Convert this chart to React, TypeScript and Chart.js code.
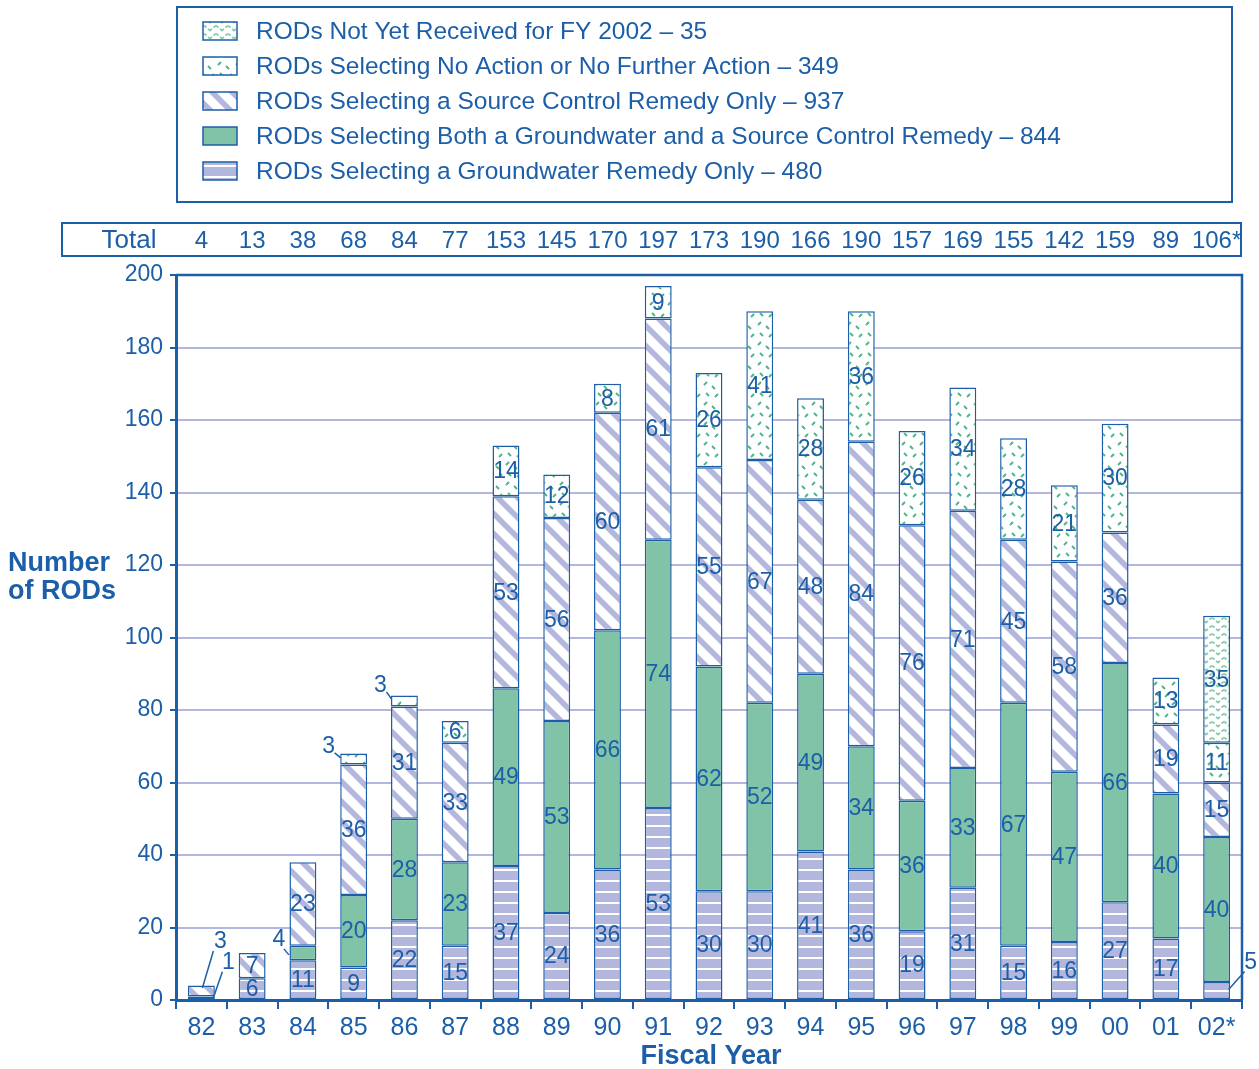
import React, { useEffect, useRef } from 'react';
import { Chart, registerables } from 'chart.js';

Chart.register(...registerables);

// ---------- data ----------
const categories = ['82', '83', '84', '85', '86', '87', '88', '89', '90', '91', '92', '93', '94', '95', '96', '97', '98', '99', '00', '01', '02*'];
const totalLabels = ['4', '13', '38', '68', '84', '77', '153', '145', '170', '197', '173', '190', '166', '190', '157', '169', '155', '142', '159', '89', '106*'];
const groundwaterOnly = [0, 6, 11, 9, 22, 15, 37, 24, 36, 53, 30, 30, 41, 36, 19, 31, 15, 16, 27, 17, 5];
const bothRemedies = [1, 0, 4, 20, 28, 23, 49, 53, 66, 74, 62, 52, 49, 34, 36, 33, 67, 47, 66, 40, 40];
const sourceControlOnly = [3, 7, 23, 36, 31, 33, 53, 56, 60, 61, 55, 67, 48, 84, 76, 71, 45, 58, 36, 19, 15];
const noAction = [0, 0, 0, 3, 3, 6, 14, 12, 8, 9, 26, 41, 28, 36, 26, 34, 28, 21, 30, 13, 11];
const notYetReceived = [0, 0, 0, 0, 0, 0, 0, 0, 0, 0, 0, 0, 0, 0, 0, 0, 0, 0, 0, 0, 35];
const seriesNames = [
  'RODs Selecting a Groundwater Remedy Only – 480',
  'RODs Selecting Both a Groundwater and a Source Control Remedy – 844',
  'RODs Selecting a Source Control Remedy Only – 937',
  'RODs Selecting No Action or No Further Action – 349',
  'RODs Not Yet Received for FY 2002 – 35',
];
const yTicks = { min: 0, max: 200, step: 20 };

// callouts: labels drawn outside with a leader line (dataset index, category index, offsets)
const callouts = [
  { ds: 2, cat: 0, dx: 19, dy: -49, ax: -7, ay: 9, bx: 1, by: -3 },
  { ds: 1, cat: 0, dx: 27, dy: -35, ax: -6, ay: 9, bx: 12, by: 0 },
  { ds: 1, cat: 2, dx: -24, dy: -13, ax: 5, ay: 9, bx: -14, by: 2 },
  { ds: 3, cat: 3, dx: -25, dy: -12, ax: 6, ay: 6, bx: -13, by: -1 },
  { ds: 3, cat: 4, dx: -24, dy: -15, ax: 6, ay: 6, bx: -13, by: -2 },
  { ds: 0, cat: 20, dx: 34, dy: -28, ax: -6, ay: 9, bx: 12, by: -1 },
];

const BLUE = '#1c5fa8';
const LAV = '#b3b7dd';
const GREEN = '#80c3a6';
const DGREEN = '#4fb487';
const LGREEN = '#8ccfb0';
const FONT = '"Liberation Sans", Arial, Helvetica, sans-serif';

function makePattern(kind: string): CanvasPattern | string {
  const c = document.createElement('canvas');
  const g = c.getContext('2d')!;
  if (kind === 'gw') {
    c.width = 8; c.height = 11;
    g.fillStyle = LAV; g.fillRect(0, 0, 8, 11);
    g.fillStyle = '#ffffff'; g.fillRect(0, 0, 8, 2);
  } else if (kind === 'both') {
    return GREEN;
  } else if (kind === 'src') {
    const s = 20;
    c.width = s; c.height = s;
    g.fillStyle = '#ffffff'; g.fillRect(0, 0, s, s);
    g.strokeStyle = LAV; g.lineWidth = 5.5; g.lineCap = 'square';
    for (const k of [-s, 0, s]) {
      g.beginPath(); g.moveTo(k - 2, -2); g.lineTo(k + s + 2, s + 2); g.stroke();
    }
  } else if (kind === 'noaction') {
    c.width = 18; c.height = 20;
    g.fillStyle = '#ffffff'; g.fillRect(0, 0, 18, 20);
    g.strokeStyle = DGREEN; g.lineWidth = 2;
    const seg = (x1: number, y1: number, x2: number, y2: number) => { g.beginPath(); g.moveTo(x1, y1); g.lineTo(x2, y2); g.stroke(); };
    seg(2, 5, 5, 2);
    seg(10, 6, 13, 9);
    seg(4, 13, 7, 16);
    seg(13, 17, 16, 14);
  } else if (kind === 'notyet') {
    c.width = 12; c.height = 8;
    g.fillStyle = '#ffffff'; g.fillRect(0, 0, 12, 8);
    g.strokeStyle = LGREEN; g.lineWidth = 2;
    g.beginPath(); g.moveTo(0, 1.5); g.lineTo(2.5, 3.5); g.stroke();
    g.beginPath(); g.moveTo(4, 5); g.lineTo(6, 6.5); g.lineTo(8, 5); g.stroke();
    g.beginPath(); g.moveTo(9.5, 3.5); g.lineTo(12, 1.5); g.stroke();
  }
  return g.createPattern(c, 'repeat')!;
}

export default function App() {
  const ref = useRef<HTMLCanvasElement>(null);

  useEffect(() => {
    document.body.style.margin = '0';
    const canvas = ref.current!;
    const fills = [makePattern('gw'), makePattern('both'), makePattern('src'), makePattern('noaction'), makePattern('notyet')];
    const seriesValues = [groundwaterOnly, bothRemedies, sourceControlOnly, noAction, notYetReceived];

    const decor = {
      id: 'decor',
      afterDraw(chart: any) {
        const ctx: CanvasRenderingContext2D = chart.ctx;
        const { left, top, right, bottom } = chart.chartArea;
        ctx.save();
        // frame top/right
        ctx.strokeStyle = BLUE;
        ctx.lineWidth = 2.5;
        ctx.beginPath();
        ctx.moveTo(left, top); ctx.lineTo(right, top); ctx.lineTo(right, bottom);
        ctx.stroke();

        // data labels
        ctx.fillStyle = BLUE;
        ctx.font = `23px ${FONT}`;
        ctx.textAlign = 'center';
        ctx.textBaseline = 'middle';
        seriesValues.forEach((vals, ds) => {
          const meta = chart.getDatasetMeta(ds);
          vals.forEach((v, i) => {
            if (!v) return;
            const el = meta.data[i];
            const mid = (el.y + el.base) / 2;
            const co = callouts.find((c) => c.ds === ds && c.cat === i);
            if (co) {
              const lx = el.x + co.dx, ly = mid + co.dy;
              ctx.fillText(String(v), lx, ly);
              ctx.strokeStyle = BLUE; ctx.lineWidth = 1.5;
              ctx.beginPath();
              ctx.moveTo(lx + co.ax, ly + co.ay);
              ctx.lineTo(el.x + co.bx, mid + co.by);
              ctx.stroke();
            } else {
              ctx.fillText(String(v), el.x, mid + 1);
            }
          });
        });

        // legend box
        ctx.lineWidth = 2;
        ctx.strokeStyle = BLUE;
        ctx.strokeRect(177, 7, 1055, 195);
        ctx.font = `24.5px ${FONT}`;
        ctx.textAlign = 'left';
        for (let r = 0; r < 5; r++) {
          const ds = 4 - r;
          const y = 31 + r * 35;
          ctx.fillStyle = fills[ds] as any;
          ctx.fillRect(203, y - 9, 34, 18);
          ctx.lineWidth = 1.5;
          ctx.strokeStyle = BLUE;
          ctx.strokeRect(203, y - 9, 34, 18);
          ctx.fillStyle = BLUE;
          ctx.fillText(seriesNames[ds], 256, y + 1);
        }

        // totals row
        ctx.lineWidth = 2;
        ctx.strokeRect(62, 223, 1179, 33);
        ctx.textAlign = 'center';
        ctx.font = `26px ${FONT}`;
        ctx.fillText('Total', 129, 241);
        ctx.font = `24px ${FONT}`;
        const xs = chart.scales.x;
        totalLabels.forEach((t, i) => {
          ctx.fillText(t, xs.getPixelForValue(i), 241);
        });

        // axis titles
        ctx.font = `bold 27px ${FONT}`;
        ctx.textAlign = 'left';
        ctx.fillText('Number', 8, 564);
        ctx.fillText('of RODs', 8, 592);
        ctx.textAlign = 'center';
        ctx.fillText('Fiscal Year', 711, 1057);
        ctx.restore();
      },
    };

    const chart = new Chart(canvas, {
      type: 'bar',
      data: {
        labels: categories,
        datasets: seriesValues.map((vals, i) => ({
          label: seriesNames[i],
          data: vals.map((v) => (v ? v : null)),
          backgroundColor: fills[i] as any,
          borderColor: BLUE,
          borderWidth: 1.5,
          borderSkipped: false,
          barPercentage: 0.53,
          categoryPercentage: 1,
        })),
      },
      options: {
        animation: false,
        responsive: false,
        devicePixelRatio: 1,
        layout: { padding: { top: 275, right: 17, left: 0, bottom: 0 } },
        plugins: { legend: { display: false }, tooltip: { enabled: false } },
        scales: {
          x: {
            stacked: true,
            offset: true,
            afterFit: (s: any) => { s.height = 69; },
            grid: { display: true, drawOnChartArea: false, drawTicks: true, tickLength: 9, color: BLUE, lineWidth: 2, offset: true },
            border: { display: true, color: BLUE, width: 3 },
            ticks: { color: BLUE, font: { family: FONT, size: 25 }, padding: 4, maxRotation: 0, autoSkip: false },
          },
          y: {
            stacked: true,
            min: yTicks.min,
            max: yTicks.max,
            afterFit: (s: any) => { s.width = 176; },
            grid: { color: LAV, lineWidth: 2, drawTicks: true, tickLength: 6, tickColor: BLUE },
            border: { display: true, color: BLUE, width: 3 },
            ticks: { stepSize: yTicks.step, color: BLUE, font: { family: FONT, size: 23 }, padding: 7 },
          },
        },
      },
      plugins: [decor],
    });
    return () => chart.destroy();
  }, []);

  return <canvas ref={ref} width={1259} height={1069} style={{ display: 'block' }} />;
}
